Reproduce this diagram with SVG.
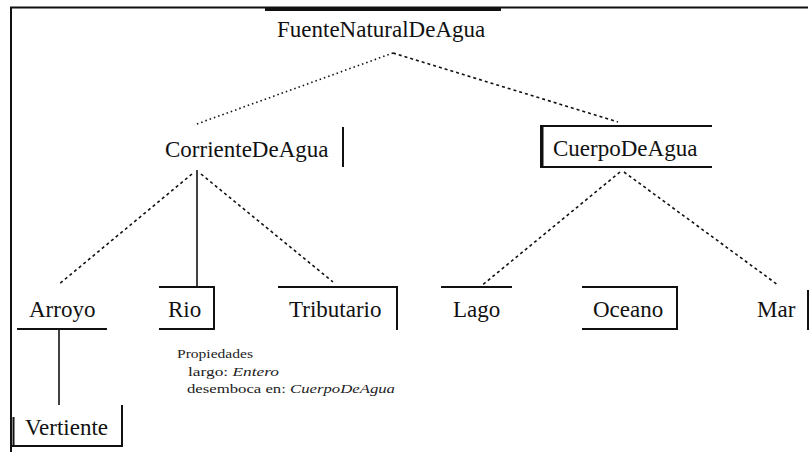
<svg xmlns="http://www.w3.org/2000/svg" width="810" height="452" viewBox="0 0 810 452">
  <style>
    .lbl { font-family: "Liberation Serif", "Times New Roman", serif; font-size: 23px; fill: #111; }
    .note { font-family: "Liberation Serif", "Times New Roman", serif; font-size: 12px; fill: #222; }
    .note .it { font-style: italic; }
    .edge { fill: none; stroke: #111; stroke-width: 2; }
    .frame { fill: none; stroke: #111; stroke-width: 2; }
    .link { fill: none; stroke: #111; stroke-width: 1.6; }
    .dot { stroke-dasharray: 1.5 3; }
    .dash { stroke-dasharray: 3 3; }
  </style>
  <rect width="810" height="452" fill="#fff"/>

  <!-- page frame (top and left) -->
  <g id="frame">
    <path class="frame" d="M10 7.5 H808 M11 7 V452"/>
  </g>

  <!-- connectors -->
  <g id="connectors">
    <path class="link dot" d="M393 53 L194 125"/>
    <path class="link dash" d="M393 53 L618 122"/>
    <path class="link dash" d="M192 174 L58 285"/>
    <path class="link" d="M197 170 V287"/>
    <path class="link dash" d="M201 174 L333 282"/>
    <path class="link dash" d="M620 172 L480 287"/>
    <path class="link dash" d="M624 172 L778 285"/>
    <path class="link" d="M59 329 V405"/>
  </g>

  <g id="FuenteNaturalDeAgua">
    <rect x="265" y="7" width="236" height="4" fill="#111"/>
    <text class="lbl" x="277" y="37">FuenteNaturalDeAgua</text>
  </g>

  <g id="CorrienteDeAgua">
    <path class="edge" d="M343 127 V167"/>
    <text class="lbl" x="165" y="157">CorrienteDeAgua</text>
  </g>

  <g id="CuerpoDeAgua">
    <path class="edge" d="M712 126 H541 V167 H712"/>
    <path class="edge" d="M542.5 126 V167"/>
    <text class="lbl" x="553" y="156">CuerpoDeAgua</text>
  </g>

  <g id="Arroyo">
    <path class="edge" d="M17 329 H107"/>
    <text class="lbl" x="29" y="317">Arroyo</text>
  </g>

  <g id="Rio">
    <path class="edge" d="M159 287 H214 V329 H159"/>
    <text class="lbl" x="168" y="317">Rio</text>
  </g>

  <g id="Tributario">
    <path class="edge" d="M278 287 H397 V330"/>
    <text class="lbl" x="289" y="317">Tributario</text>
  </g>

  <g id="Lago">
    <path class="edge" d="M441 287 H512"/>
    <text class="lbl" x="453" y="317">Lago</text>
  </g>

  <g id="Oceano">
    <path class="edge" d="M582 287 H677 V329 H582"/>
    <text class="lbl" x="593" y="317">Oceano</text>
  </g>

  <g id="Mar">
    <path class="edge" d="M808 290 V330"/>
    <text class="lbl" x="757" y="317">Mar</text>
  </g>

  <g id="Vertiente">
    <path class="edge" d="M122 405 V446 H12"/>
    <path class="edge" d="M13.5 417 V446"/>
    <text class="lbl" x="25" y="435">Vertiente</text>
  </g>

  <!-- properties of Rio -->
  <g id="RioPropiedades" class="note">
    <text x="177" y="358" textLength="76" lengthAdjust="spacingAndGlyphs">Propiedades</text>
    <text x="188" y="376" textLength="91" lengthAdjust="spacingAndGlyphs">largo: <tspan class="it">Entero</tspan></text>
    <text x="187" y="393" textLength="208" lengthAdjust="spacingAndGlyphs">desemboca en: <tspan class="it">CuerpoDeAgua</tspan></text>
  </g>
</svg>
